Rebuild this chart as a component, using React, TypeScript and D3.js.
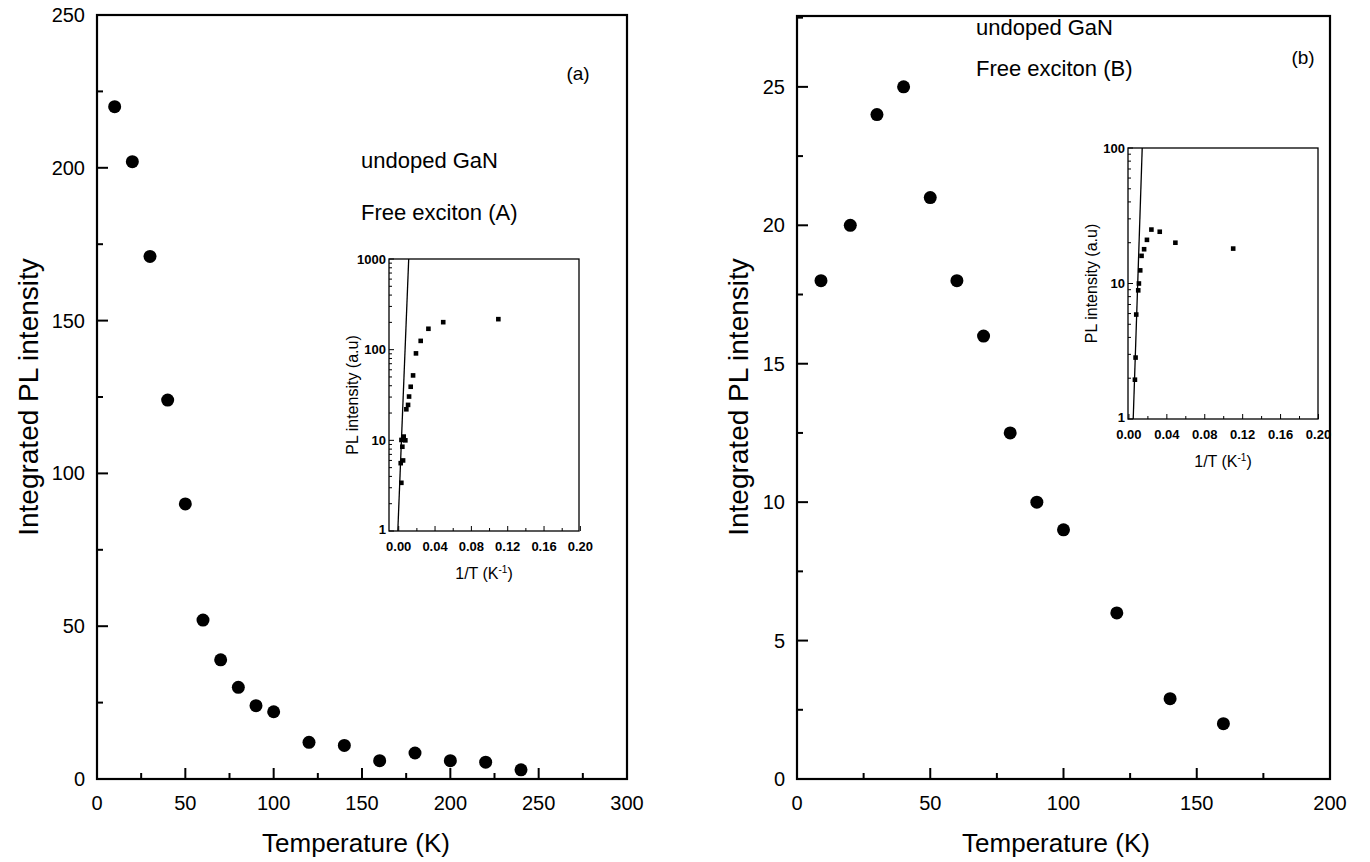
import React from "react";
import * as d3 from "d3";

// ---- Panel (a) data: free exciton A ----
const tempA = [10, 20, 30, 40, 50, 60, 70, 80, 90, 100, 120, 140, 160, 180, 200, 220, 240];
const intensityA = [220, 202, 171, 124, 90, 52, 39, 30, 24, 22, 12, 11, 6, 8.5, 6, 5.5, 3];

// ---- Panel (b) data: free exciton B ----
const tempB = [9, 20, 30, 40, 50, 60, 70, 80, 90, 100, 120, 140, 160];
const intensityB = [18, 20, 24, 25, 21, 18, 16, 12.5, 10, 9, 6, 2.9, 2];

// ---- Inset (a): PL intensity vs 1/T ----
const insetInvTA = [0.0029, 0.0022, 0.0048, 0.004, 0.003, 0.0055, 0.0073, 0.0084, 0.0103, 0.0114, 0.0132, 0.0158, 0.019, 0.0242, 0.0327, 0.049, 0.1097];
const insetPLA = [3.4, 5.6, 6, 8.5, 10.1, 11, 10, 22, 24.6, 30.4, 39, 52, 91, 125, 170, 201, 217];
const fitLineA = [[-0.001, 1], [0.011, 1000]];

// ---- Inset (b) ----
const insetInvTB = [0.0063, 0.007, 0.0077, 0.0098, 0.0105, 0.0119, 0.0133, 0.016, 0.019, 0.0237, 0.0325, 0.049, 0.11];
const insetPLB = [1.95, 2.84, 5.9, 8.9, 10, 12.5, 16, 17.9, 21, 25, 24.1, 20, 18.1];
const fitLineB = [[0.0045, 1], [0.014, 100]];

// ---- tick labels ----
const xTicksA = [0, 50, 100, 150, 200, 250, 300];
const yTicksA = [0, 50, 100, 150, 200, 250];
const xTicksB = [0, 50, 100, 150, 200];
const yTicksB = [0, 5, 10, 15, 20, 25];
const insetXTicks = [0, 0.04, 0.08, 0.12, 0.16, 0.2];
const insetYTicksA = [1, 10, 100, 1000];
const insetYTicksB = [1, 10, 100];

const FONT = "'Liberation Sans', Arial, Helvetica, sans-serif";

function MainPanel(props: any) {
  const { left, right, top, bottom, xDomain, yDomain, xMajor, xMinor, yMajor, yMinor, xTicks, yTicks, xs, ys } = props;
  const x = d3.scaleLinear().domain(xDomain).range([left, right]);
  const y = d3.scaleLinear().domain(yDomain).range([bottom, top]);
  const xMinorTicks = d3.range(xDomain[0], xDomain[1] + 1e-9, xMinor);
  const yMinorTicks = d3.range(yDomain[0], yDomain[1] + 1e-9, yMinor);
  return (
    <g>
      <rect x={left} y={top} width={right - left} height={bottom - top} fill="none" stroke="#000" strokeWidth={2.2} />
      {xMinorTicks.map((t: number, i: number) => {
        const major = Math.abs(t / xMajor - Math.round(t / xMajor)) < 1e-6;
        return <line key={"xm" + i} x1={x(t)} x2={x(t)} y1={bottom} y2={bottom - (major ? 11 : 6)} stroke="#000" strokeWidth={2} />;
      })}
      {yMinorTicks.map((t: number, i: number) => {
        const major = Math.abs(t / yMajor - Math.round(t / yMajor)) < 1e-6;
        return <line key={"ym" + i} x1={left} x2={left + (major ? 11 : 6)} y1={y(t)} y2={y(t)} stroke="#000" strokeWidth={2} />;
      })}
      {xTicks.map((t: number) => (
        <text key={"xl" + t} x={x(t)} y={bottom + 24} textAnchor="middle" dy="0.35em" fontSize={20} fontFamily={FONT}>{t}</text>
      ))}
      {yTicks.map((t: number) => (
        <text key={"yl" + t} x={left - 12} y={y(t)} textAnchor="end" dy="0.35em" fontSize={20} fontFamily={FONT}>{t}</text>
      ))}
      {xs.map((v: number, i: number) => (
        <circle key={"p" + i} cx={x(v)} cy={y(ys[i])} r={6.5} fill="#000" />
      ))}
    </g>
  );
}

function Inset(props: any) {
  const { left, right, top, bottom, xDomain, yDomain, yTicks, xs, ys, fit } = props;
  const x = d3.scaleLinear().domain(xDomain).range([left, right]);
  const y = d3.scaleLog().domain(yDomain).range([bottom, top]);
  const minorX = d3.range(0, 0.2001, 0.02);
  const logMinor: number[] = [];
  for (let d = yDomain[0]; d < yDomain[1]; d *= 10) {
    for (let k = 2; k <= 9; k++) logMinor.push(d * k);
  }
  const clipId = "clip" + left;
  const line = d3.line<number[]>().x((d) => x(d[0])).y((d) => y(d[1]));
  return (
    <g>
      <defs>
        <clipPath id={clipId}>
          <rect x={left} y={top} width={right - left} height={bottom - top} />
        </clipPath>
      </defs>
      <rect x={left} y={top} width={right - left} height={bottom - top} fill="#fff" stroke="#000" strokeWidth={1.3} />
      {minorX.map((t: number, i: number) => (
        <line key={"ix" + i} x1={x(t)} x2={x(t)} y1={bottom} y2={bottom - (i % 2 === 0 ? 5 : 3)} stroke="#000" strokeWidth={1} />
      ))}
      {logMinor.map((t: number, i: number) => (
        <line key={"iy" + i} x1={left} x2={left + 3} y1={y(t)} y2={y(t)} stroke="#000" strokeWidth={1} />
      ))}
      {yTicks.map((t: number) => (
        <line key={"iyM" + t} x1={left} x2={left + 5} y1={y(t)} y2={y(t)} stroke="#000" strokeWidth={1} />
      ))}
      {insetXTicks.map((t: number) => (
        <text key={"ixl" + t} x={x(t)} y={bottom + 15} textAnchor="middle" dy="0.35em" fontSize={13} fontWeight="bold" fontFamily={FONT}>{t.toFixed(2)}</text>
      ))}
      {yTicks.map((t: number) => (
        <text key={"iyl" + t} x={left - 3} y={y(t) - (t === yDomain[0] ? 2 : 0)} textAnchor="end" dy="0.35em" fontSize={13} fontWeight="bold" fontFamily={FONT}>{t}</text>
      ))}
      <path d={line(fit as number[][]) || ""} fill="none" stroke="#000" strokeWidth={1.3} clipPath={`url(#${clipId})`} />
      {xs.map((v: number, i: number) => (
        <rect key={"sq" + i} x={x(v) - 2.3} y={y(ys[i]) - 2.3} width={4.6} height={4.6} fill="#000" />
      ))}
      <text transform={`translate(${left - 37},${(top + bottom) / 2}) rotate(-90)`} textAnchor="middle" dy="0.35em" fontSize={16} fontFamily={FONT}>PL intensity (a.u)</text>
      <text x={(left + right) / 2} y={bottom + 42} textAnchor="middle" dy="0.35em" fontSize={16} fontFamily={FONT}>
        1/T (K<tspan fontSize={10} dy="-6">-1</tspan><tspan dy="6">)</tspan>
      </text>
    </g>
  );
}

export default function App() {
  return (
    <svg width={1370} height={862} style={{ position: "absolute", left: 0, top: 0, background: "#fff" }} fontFamily={FONT}>
      <rect x={0} y={0} width={1370} height={862} fill="#fff" />
      <MainPanel left={97} right={627} top={15} bottom={779} xDomain={[0, 300]} yDomain={[0, 250]}
        xMajor={50} xMinor={25} yMajor={50} yMinor={25} xTicks={xTicksA} yTicks={yTicksA} xs={tempA} ys={intensityA} />
      <MainPanel left={797} right={1330} top={16} bottom={779} xDomain={[0, 200]} yDomain={[0, 27.56]}
        xMajor={50} xMinor={25} yMajor={5} yMinor={2.5} xTicks={xTicksB} yTicks={yTicksB} xs={tempB} ys={intensityB} />

      <text transform="translate(28,397) rotate(-90)" textAnchor="middle" dy="0.35em" fontSize={28} fontFamily={FONT}>Integrated PL intensity</text>
      <text transform="translate(738,397) rotate(-90)" textAnchor="middle" dy="0.35em" fontSize={28} fontFamily={FONT}>Integrated PL intensity</text>
      <text x={356} y={843} textAnchor="middle" dy="0.35em" fontSize={26} fontFamily={FONT}>Temperature (K)</text>
      <text x={1056} y={843} textAnchor="middle" dy="0.35em" fontSize={26} fontFamily={FONT}>Temperature (K)</text>

      <text x={578} y={73} textAnchor="middle" dy="0.35em" fontSize={19} fontFamily={FONT}>(a)</text>
      <text x={361} y={160} dy="0.35em" fontSize={22} fontFamily={FONT}>undoped GaN</text>
      <text x={361} y={212} dy="0.35em" fontSize={22} fontFamily={FONT}>Free exciton (A)</text>
      <text x={1303} y={57} textAnchor="middle" dy="0.35em" fontSize={19} fontFamily={FONT}>(b)</text>
      <text x={976} y={27} dy="0.35em" fontSize={22} fontFamily={FONT}>undoped GaN</text>
      <text x={976} y={68} dy="0.35em" fontSize={22} fontFamily={FONT}>Free exciton (B)</text>

      <Inset left={389} right={579} top={259} bottom={531} xDomain={[-0.0107, 0.1985]} yDomain={[1, 1000]}
        yTicks={insetYTicksA} xs={insetInvTA} ys={insetPLA} fit={fitLineA} />
      <Inset left={1128} right={1318} top={148} bottom={419} xDomain={[-0.001, 0.1995]} yDomain={[1, 100]}
        yTicks={insetYTicksB} xs={insetInvTB} ys={insetPLB} fit={fitLineB} />
    </svg>
  );
}
